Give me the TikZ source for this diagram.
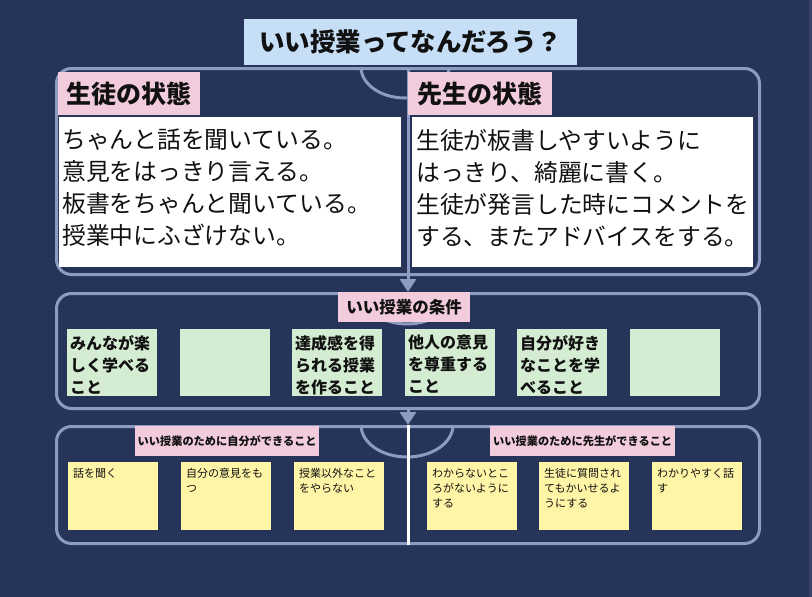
\documentclass[tikz,border=0pt]{standalone}
\usepackage{fontspec}
\setmainfont{Noto Sans CJK JP}
\usetikzlibrary{arrows.meta}
\definecolor{bg}{HTML}{273459}
\definecolor{edgestrip}{HTML}{36426A}
\definecolor{frame}{HTML}{8D9BC0}
\definecolor{titlefill}{HTML}{C6DFF7}
\definecolor{pinkfill}{HTML}{F2CCDC}
\definecolor{greenfill}{HTML}{D4EDD2}
\definecolor{yellowfill}{HTML}{FFF5A6}
\definecolor{ink}{HTML}{111111}
\begin{document}
\begin{tikzpicture}[x=1pt,y=-1pt,
  container/.style={draw=frame,line width=3pt,rounded corners=15pt,anchor=north west,inner sep=0pt,minimum width=703pt},
  labelbox/.style={fill=pinkfill,anchor=north west,inner sep=0pt,text=ink},
  whitebox/.style={fill=white,anchor=north west,inner sep=0pt,minimum height=150pt},
  greenbox/.style={fill=greenfill,anchor=north west,inner sep=0pt,minimum width=90pt,minimum height=67pt},
  yellowbox/.style={fill=yellowfill,anchor=north west,inner sep=0pt,minimum width=90pt,minimum height=68pt},
  bodytext/.style={anchor=north west,inner sep=0pt,align=left,text=ink,font=\fontsize{23.8}{32}\selectfont},
  greentext/.style={anchor=north west,inner sep=0pt,align=left,text=ink,font=\bfseries\fontsize{16}{22}\selectfont},
  yellowtext/.style={anchor=north west,inner sep=0pt,align=left,text=ink,font=\fontsize{11}{15}\selectfont},
  link/.style={draw=frame,line width=3pt},
  flow/.style={draw=frame,line width=3pt,-{Triangle[width=16pt,length=13pt]}},
]
\fill[bg] (0,0) rectangle (812,597);
\fill[edgestrip] (809,0) rectangle (812,597);
\useasboundingbox (0,0) rectangle (812,597);

% containers
\node[container,minimum height=206pt] (topframe) at (55,67) {};
\node[container,minimum height=115pt] (midframe) at (55,292) {};
\node[container,minimum height=117pt] (botframe) at (55,425) {};

% arcs under the headings
\draw[link] (361,67) arc[start angle=180,end angle=0,x radius=44,y radius=31];
\draw[link] (362,292) arc[start angle=180,end angle=0,x radius=45,y radius=32];
\draw[link] (361,425) arc[start angle=180,end angle=0,x radius=46,y radius=32];

% dividers and arrows
\draw[link] (topframe.north) -- (topframe.south);
\draw[white,line width=3pt] (botframe.north) -- (botframe.south);
\draw[flow] (topframe.south) -- (midframe.north);
\draw[flow] (midframe.south) -- (botframe.north);

% title
\node[fill=titlefill,anchor=north west,minimum width=333pt,minimum height=46pt,inner sep=0pt,
  font=\bfseries\fontsize{25.5}{30}\selectfont,text=ink] (title) at (244,19) {いい授業ってなんだろう？};

% top section
\node[labelbox,minimum width=142pt,minimum height=43pt,font=\bfseries\fontsize{25}{30}\selectfont] (labS) at (58,72) {生徒の状態};
\node[labelbox,minimum width=144pt,minimum height=43pt,font=\bfseries\fontsize{25}{30}\selectfont] (labT) at (408,72) {先生の状態};
\node[whitebox,minimum width=342pt] (wboxS) at (59,117) {};
\node[whitebox,minimum width=341pt] (wboxT) at (412,117) {};
\node[bodytext] (txtS) at (62,129) {ちゃんと話を聞いている。\\意見をはっきり言える。\\板書をちゃんと聞いている。\\授業中にふざけない。};
\node[bodytext] (txtT) at (416,129) {生徒が板書しやすいように\\はっきり、綺麗に書く。\\生徒が発言した時にコメントを\\する、またアドバイスをする。};

% middle section
\node[labelbox,minimum width=132pt,minimum height=30pt,font=\bfseries\fontsize{16.5}{20}\selectfont] (labC) at (338,292) {いい授業の条件};
\node[greenbox] (g1) at (67,329) {};
\node[greenbox] (g2) at (180,329) {};
\node[greenbox] (g3) at (292,329) {};
\node[greenbox] (g4) at (405,329) {};
\node[greenbox] (g5) at (517,329) {};
\node[greenbox] (g6) at (630,329) {};
\node[greentext] (gt1) at (70,335) {みんなが楽\\しく学べる\\こと};
\node[greentext] (gt3) at (295,335) {達成感を得\\られる授業\\を作ること};
\node[greentext] (gt4) at (408,335) {他人の意見\\を尊重する\\こと};
\node[greentext] (gt5) at (520,335) {自分が好き\\なことを学\\べること};

% bottom section
\node[labelbox,minimum width=184pt,minimum height=30pt,font=\bfseries\fontsize{11.2}{14}\selectfont] (labSelf) at (135,426) {いい授業のために自分ができること};
\node[labelbox,minimum width=185pt,minimum height=30pt,font=\bfseries\fontsize{11.2}{14}\selectfont] (labTeach) at (490,426) {いい授業のために先生ができること};
\node[yellowbox] (y1) at (68,462) {};
\node[yellowbox] (y2) at (181,462) {};
\node[yellowbox] (y3) at (294,462) {};
\node[yellowbox] (y4) at (427,462) {};
\node[yellowbox] (y5) at (539,462) {};
\node[yellowbox] (y6) at (652,462) {};
\node[yellowtext] (yt1) at (73,468) {話を聞く};
\node[yellowtext] (yt2) at (186,468) {自分の意見をも\\つ};
\node[yellowtext] (yt3) at (299,468) {授業以外なこと\\をやらない};
\node[yellowtext] (yt4) at (432,468) {わからないとこ\\ろがないように\\する};
\node[yellowtext] (yt5) at (544,468) {生徒に質問され\\てもかいせるよ\\うにする};
\node[yellowtext] (yt6) at (657,468) {わかりやすく話\\す};
\end{tikzpicture}
\end{document}
